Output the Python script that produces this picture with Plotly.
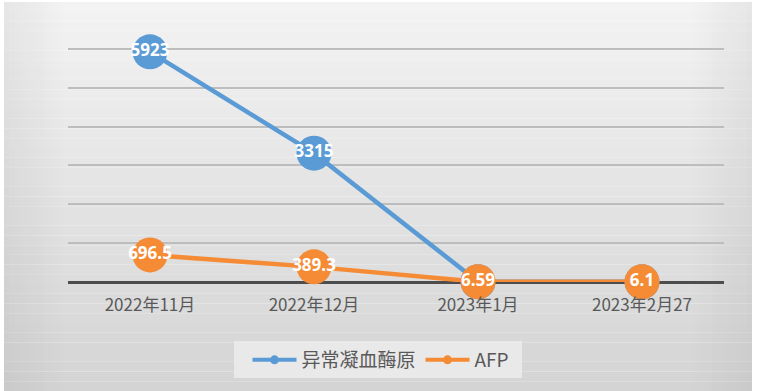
import plotly.graph_objects as go

categories = ["2022年11月", "2022年12月", "2023年1月", "2023年2月27"]
pivka_name = "异常凝血酶原"
afp_name = "AFP"
pivka_values = [5923, 3315, 6.1, 5.19]
afp_values = [696.5, 389.3, 6.59, 6.1]

BLUE = "#5B9BD5"
ORANGE_M = "#F58B35"
FONT = "Noto Sans CJK SC, DejaVu Sans, sans-serif"

fig = go.Figure()

def fmt(v):
    return f"{v:g}"

fig.add_trace(go.Scatter(
    x=categories, y=pivka_values, mode="lines+markers+text",
    line=dict(color=BLUE, width=4.5), marker=dict(size=35, color=BLUE),
    text=[fmt(v) for v in pivka_values], textposition="middle center",
    textfont=dict(color="white", size=17, family="Open Sans, DejaVu Sans", weight="bold"),
    showlegend=False, cliponaxis=False))
fig.add_trace(go.Scatter(
    x=categories, y=afp_values, mode="lines+markers+text",
    line=dict(color=ORANGE_M, width=4.5), marker=dict(size=35, color=ORANGE_M),
    text=[fmt(v) for v in afp_values], textposition="middle center",
    textfont=dict(color="white", size=17, family="Open Sans, DejaVu Sans", weight="bold"),
    showlegend=False, cliponaxis=False))

# legend entries
fig.add_trace(go.Scatter(x=[None], y=[None], mode="lines+markers", name=pivka_name,
                         line=dict(color=BLUE, width=4), marker=dict(size=9, color=BLUE)))
fig.add_trace(go.Scatter(x=[None], y=[None], mode="lines+markers", name=afp_name,
                         line=dict(color=ORANGE_M, width=4), marker=dict(size=9, color=ORANGE_M)))

# background gradient (full chart area)
L, R, T, B = 68, 724, 10, 282
W, H = R - L, B - T
def px_x(p): return (p - L) / W
def px_y(p): return (B - p) / H

shapes = []
n = 40
top, bot = 2, 391
c0, c1 = 243, 212
for i in range(n):
    y0 = top + (bot - top) * i / n
    y1 = top + (bot - top) * (i + 1) / n
    c = round(c0 + (c1 - c0) * (i + 0.5) / n)
    shapes.append(dict(type="rect", xref="paper", yref="paper", layer="below",
                       x0=px_x(4), x1=px_x(752), y0=px_y(y1), y1=px_y(y0),
                       fillcolor=f"rgb({c},{c},{c})", line=dict(width=0)))
# darker side edges
m = 12
for i in range(m):
    w = 60 / m
    op = 0.10 * (1 - i / m)
    for (a, b) in [(4 + i * w, 4 + (i + 1) * w), (752 - (i + 1) * w, 752 - i * w)]:
        shapes.append(dict(type="rect", xref="paper", yref="paper", layer="below",
                           x0=px_x(a), x1=px_x(b), y0=px_y(bot), y1=px_y(top),
                           fillcolor=f"rgba(120,120,120,{op:.3f})", line=dict(width=0)))
# legend box
shapes.append(dict(type="rect", xref="paper", yref="paper", layer="below",
                   x0=px_x(234), x1=px_x(522), y0=px_y(378), y1=px_y(341),
                   fillcolor="rgba(235,235,235,0.9)", line=dict(width=0)))

fig.update_layout(
    width=757, height=391,
    margin=dict(l=L, r=757 - R, t=T, b=391 - B, autoexpand=False),
    paper_bgcolor="white", plot_bgcolor="rgba(0,0,0,0)",
    shapes=shapes,
    font=dict(family=FONT, color="#595959"),
    showlegend=True,
    legend=dict(orientation="h", x=px_x(381), y=px_y(360), xanchor="center", yanchor="middle",
                bgcolor="rgba(0,0,0,0)", font=dict(size=19, color="#595959", family=FONT),
                itemwidth=44, tracegroupgap=0),
    xaxis=dict(type="category", range=[-0.5, 3.5], showgrid=False, zeroline=False,
               showline=False, ticks="", tickfont=dict(size=17, color="#595959", family=FONT),
               ticklabelstandoff=11),
    yaxis=dict(range=[0, 7000], dtick=1000, showticklabels=False, showgrid=True,
               gridcolor="#BDBDBD", gridwidth=1.5, zeroline=True, zerolinecolor="#4D4D4D",
               zerolinewidth=2.5, showline=False, fixedrange=True),
)

fig.write_html("out.html", config={"displayModeBar": False})

with open("out.html", "r", encoding="utf-8") as f:
    html = f.read()
html = html.replace("<head>", "<head><style>html,body{margin:0;padding:0;overflow:hidden;}</style>", 1)
with open("out.html", "w", encoding="utf-8") as f:
    f.write(html)
